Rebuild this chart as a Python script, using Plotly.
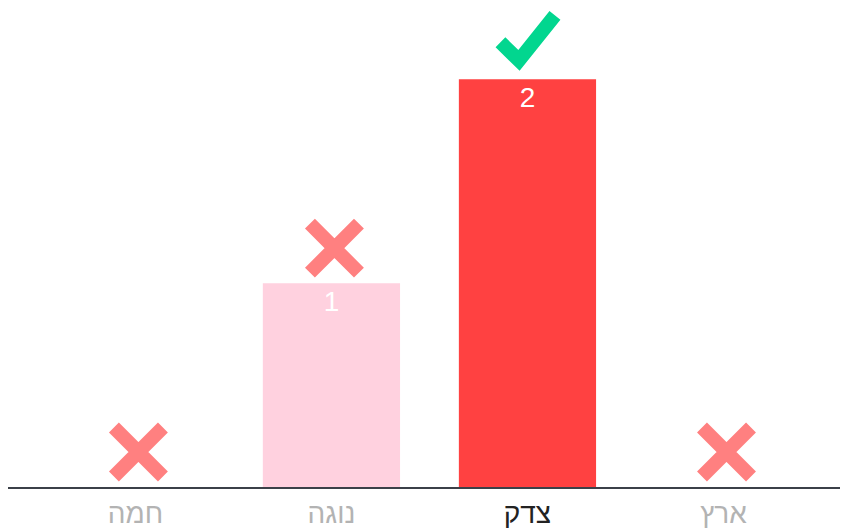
import plotly.graph_objects as go

categories = ["חמה", "נוגה", "צדק", "ארץ"]
votes = [0, 1, 2, 0]
bar_colors = ["#FFD1DF", "#FFD1DF", "#FF4141", "#FFD1DF"]
is_correct = [False, False, True, False]
label_colors = ["#B3B3B3", "#B3B3B3", "#222222", "#B3B3B3"]

xs = list(range(len(categories)))
ticktext = [f'<span style="color:{c}">{t}</span>' for t, c in zip(categories, label_colors)]

fig = go.Figure()
fig.add_trace(go.Bar(
    x=xs, y=votes, width=0.7,
    marker=dict(color=bar_colors, line=dict(width=0)),
    text=[str(v) if v > 0 else "" for v in votes],
    textposition="inside", insidetextanchor="end",
    textfont=dict(color="white", size=28, family="Liberation Sans, Arial, sans-serif"),
    hoverinfo="skip", cliponaxis=False,
))

X_PATH = "M -21.5 10.5 L 27.5 59.5 M -21.5 59.5 L 27.5 10.5"
CHECK_PATH = "M -27 37 L -8.5 19 L 27.5 64"
shapes = []
for x, v, ok in zip(xs, votes, is_correct):
    shapes.append(dict(
        type="path", xref="x", yref="y",
        xsizemode="pixel", ysizemode="pixel",
        xanchor=x, yanchor=v,
        path=CHECK_PATH if ok else X_PATH,
        line=dict(color="#02D68F" if ok else "#FF8080", width=14),
        fillcolor="rgba(0,0,0,0)", layer="above",
    ))

fig.update_layout(
    width=848, height=528,
    margin=dict(l=0, r=0, t=0, b=49),
    paper_bgcolor="white", plot_bgcolor="white",
    showlegend=False, shapes=shapes,
    font=dict(family="Liberation Sans, Arial, sans-serif"),
    xaxis=dict(
        tickmode="array", tickvals=xs, ticktext=ticktext,
        range=[-0.65, 3.676], showgrid=False, zeroline=False,
        showline=True, linecolor="#3b4048", linewidth=2,
        ticks="", tickfont=dict(size=28, family="Liberation Sans, Arial, sans-serif"),
        fixedrange=True,
    ),
    yaxis=dict(visible=False, range=[0, 2.35], fixedrange=True),
)

fig.write_html("out.html")
